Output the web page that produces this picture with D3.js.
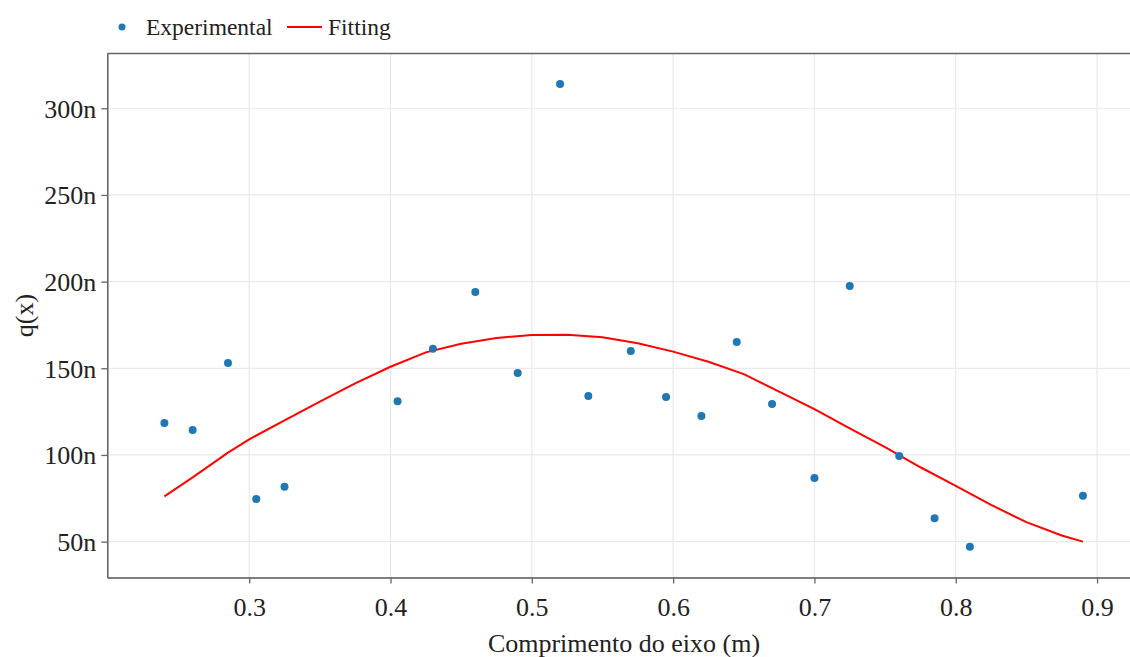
<!DOCTYPE html>
<html>
<head>
<meta charset="utf-8">
<script src="https://cdn.jsdelivr.net/npm/d3@7"></script>
<style>
  html, body { margin: 0; padding: 0; background: #fff; }
  svg { display: block; font-family: "Liberation Serif", "Times New Roman", serif; }
</style>
</head>
<body>
<svg id="chart" width="1130" height="657"></svg>
<script>
// Measured load distribution along the shaft (position in m, q in nano units)
const expX = [0.24, 0.26, 0.285, 0.305, 0.325, 0.405, 0.43, 0.46, 0.49, 0.52, 0.54,
              0.57, 0.595, 0.62, 0.645, 0.67, 0.70, 0.725, 0.76, 0.785, 0.81, 0.89];
const expQ = [118.5, 114.4, 153.1, 74.6, 81.6, 131.0, 161.2, 194.0, 147.3, 314.0, 134.0,
              160.0, 133.5, 122.5, 165.2, 129.4, 86.7, 197.5, 99.4, 63.5, 47.1, 76.5];

// Fitted curve, sampled along the shaft
const fitX = [0.24, 0.26, 0.285, 0.30, 0.325, 0.35, 0.375, 0.40, 0.425, 0.45, 0.475,
              0.50, 0.525, 0.55, 0.575, 0.60, 0.625, 0.65, 0.675, 0.70, 0.725, 0.75,
              0.775, 0.80, 0.825, 0.85, 0.875, 0.89];
const fitQ = [76.1, 87.1, 101.3, 109.0, 120.0, 130.8, 141.3, 150.9, 159.2, 164.2, 167.5,
              169.2, 169.4, 167.9, 164.4, 159.6, 153.8, 146.6, 136.5, 126.4, 115.4, 104.5,
              92.9, 82.1, 71.2, 61.2, 53.5, 50.0];

const xTicks = [0.3, 0.4, 0.5, 0.6, 0.7, 0.8, 0.9];
const yTicks = [50, 100, 150, 200, 250, 300];

const legendLabels = ["Experimental", "Fitting"];
const xTitle = "Comprimento do eixo (m)";
const yTitle = "q(x)";

const nano = v => v * 1e-9;
const fmtY = d3.format("~s");

const svg = d3.select("#chart");
const plot = { left: 107.3, right: 1130, top: 53.5, bottom: 577.5 };

const x = d3.scaleLinear().domain([0.1996, 0.9233]).range([plot.left, plot.right]);
const y = d3.scaleLinear().domain([nano(29.3), nano(331.6)]).range([plot.bottom, plot.top]);

// grid
const grid = svg.append("g").attr("stroke", "#e9e9e9").attr("stroke-width", 1.2);
grid.selectAll("line.v").data(xTicks).join("line")
  .attr("x1", d => x(d)).attr("x2", d => x(d))
  .attr("y1", plot.top).attr("y2", plot.bottom);
grid.selectAll("line.h").data(yTicks).join("line")
  .attr("x1", plot.left).attr("x2", plot.right)
  .attr("y1", d => y(nano(d))).attr("y2", d => y(nano(d)));

// top frame line
svg.append("line")
  .attr("x1", plot.left).attr("x2", plot.right)
  .attr("y1", plot.top).attr("y2", plot.top)
  .attr("stroke", "#666").attr("stroke-width", 1.4);

// axes
const xAxis = svg.append("g")
  .attr("transform", `translate(0,${plot.bottom})`)
  .call(d3.axisBottom(x).tickValues(xTicks).tickFormat(d3.format(".1f"))
    .tickSize(6).tickSizeOuter(0).tickPadding(14));
const yAxis = svg.append("g")
  .attr("transform", `translate(${plot.left},0)`)
  .call(d3.axisLeft(y).tickValues(yTicks.map(nano)).tickFormat(fmtY)
    .tickSize(6).tickSizeOuter(0).tickPadding(5));

[xAxis, yAxis].forEach(g => {
  g.select(".domain").attr("stroke", "#555").attr("stroke-width", 1.4);
  g.selectAll(".tick line").attr("stroke", "#666").attr("stroke-width", 1.3);
  g.selectAll(".tick text").attr("fill", "#222").attr("font-size", 26)
    .attr("font-family", "Liberation Serif, Times New Roman, serif");
});
yAxis.selectAll(".tick text").attr("dy", "0.34em");

// fitted curve
const line = d3.line().x((d, i) => x(fitX[i])).y(d => y(nano(d)));
svg.append("path").datum(fitQ)
  .attr("d", line)
  .attr("fill", "none").attr("stroke", "#ff0000").attr("stroke-width", 2);

// experimental points
svg.append("g").selectAll("circle").data(expQ).join("circle")
  .attr("cx", (d, i) => x(expX[i])).attr("cy", d => y(nano(d)))
  .attr("r", 4).attr("fill", "#1f77b4");

// axis titles
svg.append("text")
  .attr("x", 624).attr("y", 652)
  .attr("text-anchor", "middle").attr("font-size", 26).attr("fill", "#222")
  .text(xTitle);
svg.append("text")
  .attr("transform", `translate(33,${(plot.top + plot.bottom) / 2}) rotate(-90)`)
  .attr("text-anchor", "middle").attr("font-size", 26).attr("fill", "#222")
  .text(yTitle);

// legend
const lg = svg.append("g");
lg.append("circle").attr("cx", 122).attr("cy", 27).attr("r", 3.5).attr("fill", "#1f77b4");
lg.append("text").attr("x", 146).attr("y", 35).attr("font-size", 23.5).attr("fill", "#222").text(legendLabels[0]);
lg.append("line").attr("x1", 287).attr("x2", 322).attr("y1", 27).attr("y2", 27)
  .attr("stroke", "#ff0000").attr("stroke-width", 2);
lg.append("text").attr("x", 328).attr("y", 35).attr("font-size", 23.5).attr("fill", "#222").text(legendLabels[1]);
</script>
</body>
</html>
